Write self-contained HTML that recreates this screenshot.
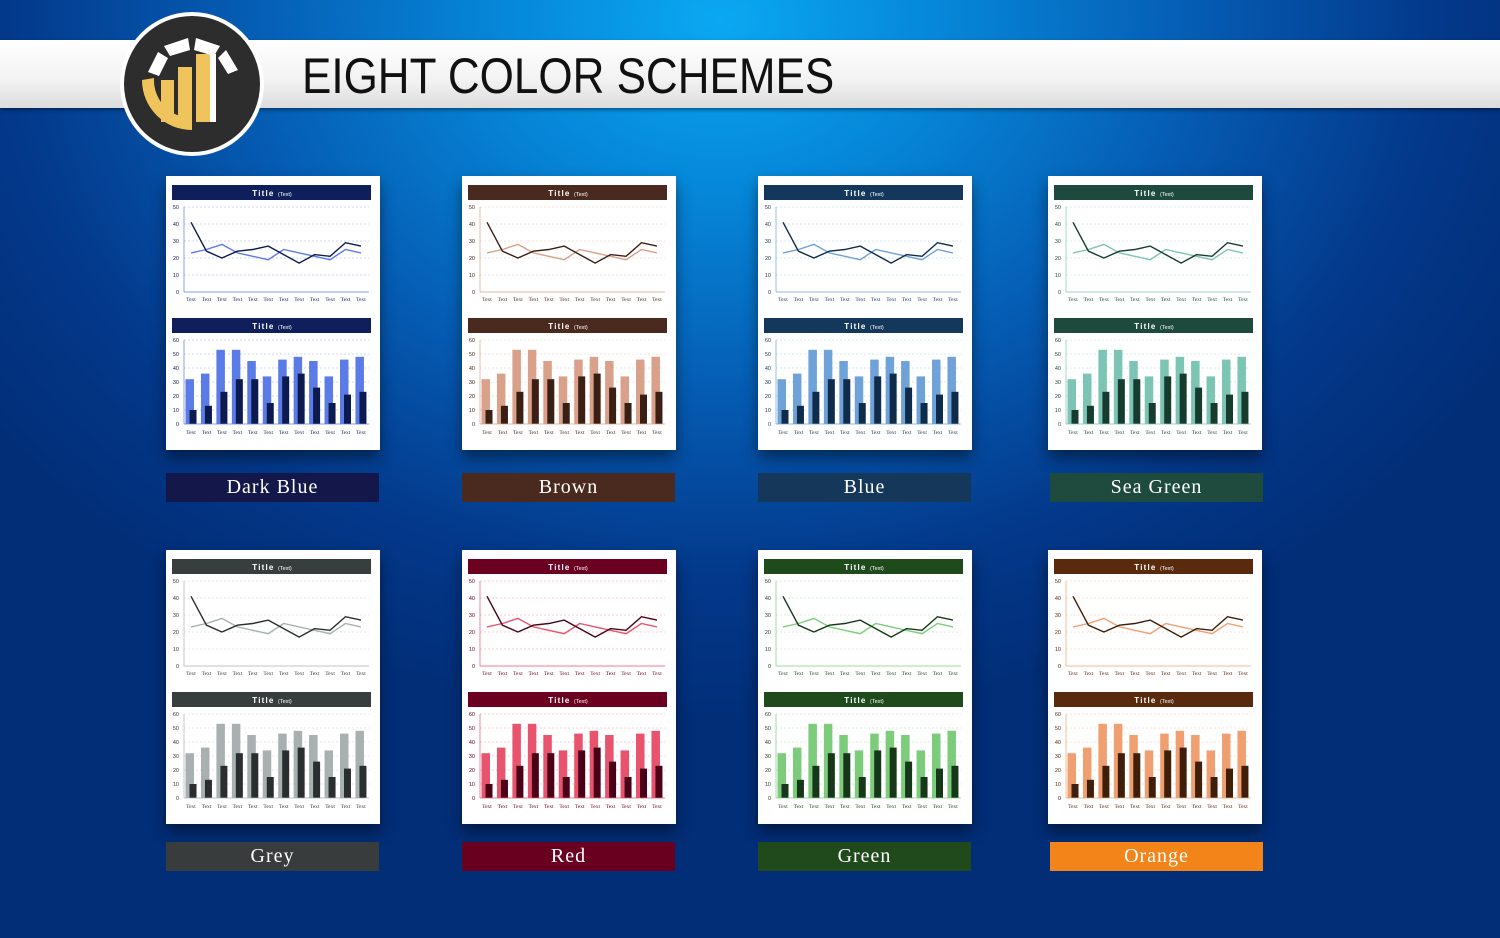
<!DOCTYPE html>
<html><head><meta charset="utf-8"><style>
html,body{margin:0;padding:0}
body{width:1500px;height:938px;overflow:hidden;position:relative;font-family:"Liberation Sans",sans-serif;
background:radial-gradient(ellipse 900px 700px at 720px 20px,#0aa8f2 0%,#0686d8 25%,#0559b0 55%,#03388a 80%,#022e78 100%);}
.band{position:absolute;left:0;top:40px;width:1500px;height:68px;background:linear-gradient(#ffffff,#f2f2f2 60%,#dcdcdc);box-shadow:0 2px 4px rgba(0,0,0,.4)}
.title{position:absolute;left:302px;top:47px;font-size:50px;color:#111;letter-spacing:0px;font-weight:normal;transform:scaleX(0.88);transform-origin:0 0;white-space:nowrap}
.card{position:absolute;width:214px;height:274px;background:#fff;box-shadow:0 8px 14px rgba(0,0,0,.45)}
.lbl{position:absolute;width:213px;height:29px;color:#fff;text-align:center;font:20px/29px "Liberation Serif",serif;letter-spacing:1px}
</style></head><body>
<div class="band"></div>
<div class="title">EIGHT COLOR SCHEMES</div>
<svg style="position:absolute;left:118px;top:10px" width="148" height="148" viewBox="0 0 148 148">
<circle cx="74" cy="74" r="72" fill="#fff"/><circle cx="74" cy="74" r="68" fill="#2d2d2d"/>
<path d="M24 70 A50 50 0 0 0 74 120 L74 108 A38 38 0 0 1 36 68 Z" fill="#efc45c"/>
<rect x="43" y="70" width="13" height="42" fill="#efc45c"/>
<rect x="60" y="57" width="14" height="55" fill="#efc45c"/>
<rect x="78" y="44" width="14" height="68" fill="#efc45c"/>
<rect x="92" y="44" width="6" height="68" fill="#fff"/>
<path d="M30 62 L40 42 L50 48 L41 66 Z" fill="#fff"/>
<path d="M46 36 L70 28 L72 40 L52 46 Z" fill="#fff"/>
<path d="M78 28 L102 36 L96 46 L76 40 Z" fill="#fff"/>
<path d="M108 40 L120 60 L110 64 L100 48 Z" fill="#fff"/>
</svg>
<div id="root"></div>
<script>
const categories=["Text","Text","Text","Text","Text","Text","Text","Text","Text","Text","Text","Text"];
const lineDark=[41,24,20,24,25,27,22,17,22,21,29,27];
const lineLight=[23,25,28,23,21,19,25,23,21,19,25,23];
const barLight=[32,36,53,53,45,34,46,48,45,34,46,48];
const barDark=[10,13,23,32,32,15,34,36,26,15,21,23];
const lineTicks=[0,10,20,30,40,50];
const barTicks=[0,10,20,30,40,50,60];
const schemeNames=["Dark Blue","Brown","Blue","Sea Green","Grey","Red","Green","Orange"];
const schemeHead=["#0f1f5c","#4a2a1e","#14375c","#1d4a3c","#383d3d","#6b0020","#1f4a1c","#5a2a0f"];
const schemeDark=["#0d1a4f","#3a1f15","#0f2c4a","#163c30","#2a2e2e","#4a0016","#17371a","#3f1e0a"];
const schemeLight=["#5b7be6","#d9a08a","#6ea2d8","#7cc4b4","#a8b0b0","#e8546e","#7ccc7c","#f0a070"];
const schemeLabel=["#13174a","#4a2a1e","#14375a","#1f4a3e","#383c3c","#6a0020","#204a1c","#f2841a"];
const NS="http://www.w3.org/2000/svg";
const colX=[166,462,758,1048], rowY=[176,550], lblY=[473,842];
function xPos(i){return 25+i*15.45;}
function yLine(v){return 116-v/50*85;}
function yBar(v){return 248-v/60*84;}
function mk(tag,attrs,parent){const e=document.createElementNS(NS,tag);for(const k in attrs)e.setAttribute(k,attrs[k]);parent.appendChild(e);return e;}
const root=document.getElementById('root');
schemeNames.forEach((name,s)=>{
  const cx=colX[s%4], cy=rowY[Math.floor(s/4)];
  const card=document.createElement('div');card.className='card';card.style.left=cx+'px';card.style.top=cy+'px';
  
  
  root.appendChild(card);
  const svg=mk('svg',{width:214,height:274,viewBox:'0 0 214 274'},card);
  const H=schemeHead[s],D=schemeDark[s],L=schemeLight[s];
  [[9,'line'],[142,'bar']].forEach(([ty,k])=>{
    const r=mk('rect',{x:6,y:ty,width:199,height:15,fill:H},svg);
    
    
    const t=mk('text',{x:106,y:ty+11,'text-anchor':'middle',fill:'#fff','font-size':8,'font-weight':'bold','letter-spacing':1.2,'font-family':'Liberation Sans'},svg);
    t.textContent='Title ';
    const sp=mk('tspan',{'font-size':5.5,'font-weight':'normal','letter-spacing':0},t);sp.textContent='(Text)';
  });
  lineTicks.forEach(v=>{
    const y=yLine(v);
    if(v>0)mk('line',{x1:18,x2:203,y1:y,y2:y,stroke:L,'stroke-width':0.5,'stroke-dasharray':'2 2',opacity:0.6},svg);
    const t=mk('text',{x:13,y:y+2,'text-anchor':'end','font-size':5.5,fill:H,'font-family':'Liberation Sans'},svg);t.textContent=v;
  });
  mk('line',{x1:18,x2:18,y1:31,y2:116,stroke:L,'stroke-width':0.7},svg);
  mk('line',{x1:18,x2:203,y1:116,y2:116,stroke:L,'stroke-width':0.7},svg);
  const pl=mk('polyline',{points:lineLight.map((v,i)=>xPos(i)+','+yLine(v)).join(' '),fill:'none',stroke:L,'stroke-width':1.4},svg);
  
  
  const pd=mk('polyline',{points:lineDark.map((v,i)=>xPos(i)+','+yLine(v)).join(' '),fill:'none',stroke:D,'stroke-width':1.4},svg);
  
  
  categories.forEach((c,i)=>{
    const t=mk('text',{x:xPos(i),y:125,'text-anchor':'middle','font-size':5.5,fill:H,'font-family':'Liberation Serif'},svg);t.textContent=c;
    const t2=mk('text',{x:xPos(i),y:258,'text-anchor':'middle','font-size':5.5,fill:H,'font-family':'Liberation Serif'},svg);t2.textContent=c;
  });
  barTicks.forEach(v=>{
    const y=yBar(v);
    if(v>0)mk('line',{x1:18,x2:203,y1:y,y2:y,stroke:L,'stroke-width':0.5,'stroke-dasharray':'2 2',opacity:0.6},svg);
    const t=mk('text',{x:13,y:y+2,'text-anchor':'end','font-size':5.5,fill:H,'font-family':'Liberation Sans'},svg);t.textContent=v;
  });
  barLight.forEach((v,i)=>{
    const b=mk('rect',{x:xPos(i)-5.5,y:yBar(v),width:8.5,height:248-yBar(v),fill:L},svg);
    
    
  });
  barDark.forEach((v,i)=>{
    const b=mk('rect',{x:xPos(i)-1.5,y:yBar(v),width:7,height:248-yBar(v),fill:D},svg);
    
    
  });
  mk('line',{x1:18,x2:18,y1:164,y2:248,stroke:L,'stroke-width':0.7},svg);
  mk('line',{x1:18,x2:203,y1:248,y2:248,stroke:L,'stroke-width':0.7},svg);
  const lb=document.createElement('div');lb.className='lbl';
  lb.style.left=(cx+(s%4===3?2:0))+'px';lb.style.top=lblY[Math.floor(s/4)]+'px';lb.style.background=schemeLabel[s];
  lb.textContent=name;
  
  
  root.appendChild(lb);
});
</script>
</body></html>
